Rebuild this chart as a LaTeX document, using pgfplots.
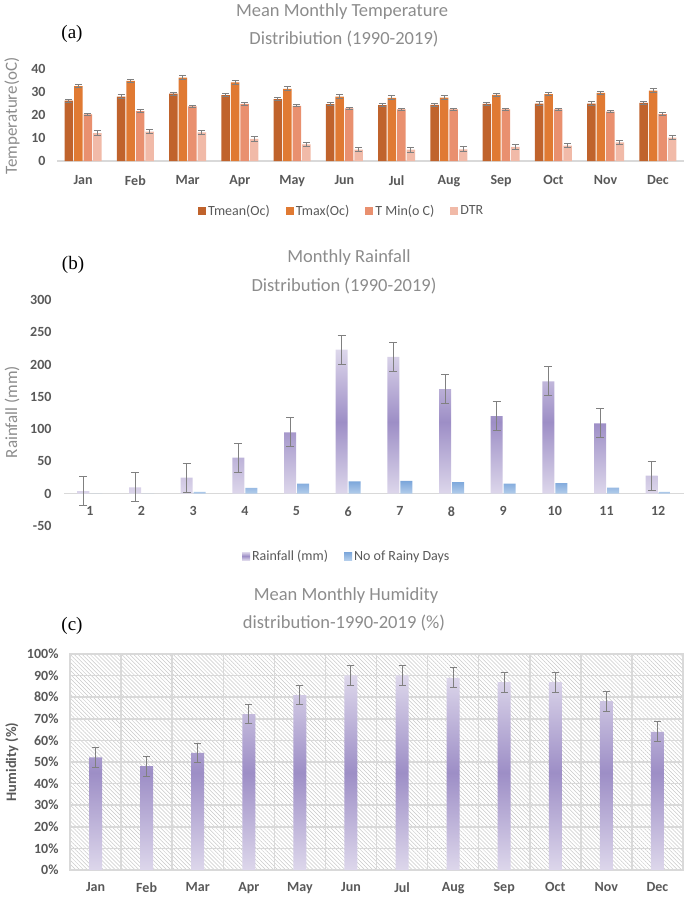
\documentclass[border=0pt]{standalone}
\usepackage{fontspec}
\setmainfont{Carlito}
\newfontfamily\tnr{Liberation Serif}
\usepackage{pgfplots}
\pgfplotsset{compat=1.18}
\usetikzlibrary{patterns.meta}

\definecolor{tmean}{HTML}{C0632C}
\definecolor{tmax}{HTML}{E07A33}
\definecolor{tmin}{HTML}{E9906F}
\definecolor{dtr}{HTML}{F1BAA8}
\definecolor{txt}{HTML}{595959}
\definecolor{ttl}{HTML}{8C8C8C}
\definecolor{errc}{HTML}{808080}
\definecolor{lav}{HTML}{DDD7EB}
\definecolor{purp}{HTML}{9D8EC6}
\definecolor{blu1}{HTML}{7AA5DA}
\definecolor{blu2}{HTML}{B3CDEB}
\definecolor{gridc}{HTML}{D9D9D9}
\definecolor{hatch}{HTML}{C8C8C8}

\pgfplotsset{
  panel/.style={
    scale only axis, anchor=south west,
    /pgf/number format/assume math mode=true,
    tick style={draw=none}, major tick length=0pt, minor tick length=0pt,
    ticklabel style={font=\fontsize{14}{16}\selectfont\bfseries, text=txt},
    legend style={draw=none, fill=none, font=\fontsize{14}{16}\selectfont, text=txt,
      legend columns=-1, anchor=center,
      /tikz/every even column/.append style={column sep=14pt}},
    error bars/error bar style={errc, line width=1pt},
    error bars/error mark options={errc, rotate=90, line width=1pt, mark size=3.5pt},
  },
  sqlegend/.style={legend image code/.code={\fill[##1] (0pt,-4pt) rectangle (8pt,4pt);}},
}
\tikzset{ttlfont/.style={font=\fontsize{18.5}{20}\selectfont, text=ttl},
  ylabfont/.style={font=\fontsize{17}{19}\selectfont, text=ttl, rotate=90}}

\begin{document}
\begin{tikzpicture}
\useasboundingbox (0,0) rectangle (685pt,-897pt);

% ---------- (a) temperature
\node[ttlfont] at (342pt,-12pt) {Mean Monthly Temperature};
\node[ttlfont] at (344pt,-39pt) {Distribiution (1990-2019)};
\node[font=\tnr\fontsize{19}{21}\selectfont] at (72pt,-34pt) {(a)};
\node[ylabfont] at (12pt,-116pt) {Temperature(oC)};

\begin{axis}[panel, at={(57pt,-161pt)},
  width=627pt, height=92pt,
  xmin=-0.5, xmax=11.5, ymin=0, ymax=40,
  axis line style={draw=none},
  ytick={0,10,20,30,40},
  extra y ticks={0}, extra y tick labels={},
  extra y tick style={grid=major, major grid style={gridc, line width=1.2pt}},
  xtick={0,...,11},
  xticklabels={Jan,Feb,Mar,Apr,May,Jun,Jul,Aug,Sep,Oct,Nov,Dec},
  xticklabel style={yshift=-11pt},
  yticklabel style={xshift=-8pt},
  ybar=1pt, bar width=8.5pt, sqlegend,
  legend style={at={(axis description cs:0.454,-0.54)}},
]
\addplot[fill=tmean, draw=none, error bars/.cd, y dir=both, y explicit] coordinates {
 (0,26.2) +- (0,0.7) (1,28.0) +- (0,0.7) (2,29.3) +- (0,0.7) (3,28.6) +- (0,0.7)
 (4,26.9) +- (0,0.7) (5,24.7) +- (0,0.7) (6,24.3) +- (0,0.7) (7,24.4) +- (0,0.7)
 (8,24.8) +- (0,0.7) (9,25.0) +- (0,0.7) (10,25.0) +- (0,0.7) (11,25.3) +- (0,0.7)};
\addplot[fill=tmax, draw=none, error bars/.cd, y dir=both, y explicit] coordinates {
 (0,32.6) +- (0,0.8) (1,34.8) +- (0,0.8) (2,36.2) +- (0,0.8) (3,34.2) +- (0,0.8)
 (4,31.4) +- (0,0.8) (5,28.0) +- (0,0.8) (6,27.5) +- (0,0.8) (7,27.6) +- (0,0.8)
 (8,28.7) +- (0,0.8) (9,29.1) +- (0,0.8) (10,29.6) +- (0,0.8) (11,30.6) +- (0,0.8)};
\addplot[fill=tmin, draw=none, error bars/.cd, y dir=both, y explicit] coordinates {
 (0,20.3) +- (0,0.5) (1,21.7) +- (0,0.5) (2,23.8) +- (0,0.5) (3,24.8) +- (0,0.5)
 (4,24.0) +- (0,0.5) (5,22.9) +- (0,0.5) (6,22.4) +- (0,0.5) (7,22.4) +- (0,0.5)
 (8,22.4) +- (0,0.5) (9,22.4) +- (0,0.5) (10,21.5) +- (0,0.5) (11,20.4) +- (0,0.5)};
\addplot[fill=dtr, draw=none, error bars/.cd, y dir=both, y explicit] coordinates {
 (0,12.1) +- (0,1) (1,12.8) +- (0,1) (2,12.4) +- (0,1) (3,9.6) +- (0,1)
 (4,7.2) +- (0,1) (5,5.0) +- (0,1) (6,4.9) +- (0,1) (7,5.1) +- (0,1)
 (8,6.1) +- (0,1) (9,6.7) +- (0,1) (10,8.1) +- (0,1) (11,10.2) +- (0,1)};
\legend{Tmean(Oc),Tmax(Oc),T Min(o C),DTR}
\end{axis}

% ---------- (b) rainfall
\node[ttlfont] at (349pt,-258pt) {Monthly Rainfall};
\node[ttlfont] at (344pt,-286pt) {Distribution (1990-2019)};
\node[font=\tnr\fontsize{19}{21}\selectfont] at (73pt,-265pt) {(b)};
\node[ylabfont] at (12pt,-412pt) {Rainfall (mm)};

\begin{axis}[panel, at={(64pt,-526pt)},
  width=620pt, height=226pt,
  xmin=0.5, xmax=12.5, ymin=-50, ymax=300,
  axis line style={draw=none},
  ytick={-50,0,50,...,300},
  extra y ticks={0}, extra y tick labels={},
  extra y tick style={grid=major, major grid style={gridc, line width=1.2pt}},
  xtick={1,...,12},
  xticklabel style={yshift=23pt},
  yticklabel style={xshift=-9pt},
  ybar=1pt, bar width=12pt, sqlegend,
  legend style={at={(axis description cs:0.456,-0.133)}},
  error bars/error mark options={errc, rotate=90, line width=1pt, mark size=4pt},
]
\addplot[draw=none, top color=lav, bottom color=lav, middle color=purp,
  error bars/.cd, y dir=both, y explicit] coordinates {
 (1,4) +- (0,22.5) (2,10) +- (0,22.5) (3,25) +- (0,22.5) (4,56) +- (0,22.5)
 (5,95) +- (0,22.5) (6,223) +- (0,22.5) (7,212) +- (0,22.5) (8,162) +- (0,22.5)
 (9,120) +- (0,22.5) (10,174) +- (0,22.5) (11,109) +- (0,22.5) (12,28) +- (0,22.5)};
\addplot[draw=none, top color=blu1, bottom color=blu2] coordinates {
 (1,0) (2,0) (3,3) (4,9) (5,15.5) (6,19) (7,20) (8,18) (9,15.5) (10,16.5) (11,9.5) (12,3)};
\legend{Rainfall (mm),No of Rainy Days}
\end{axis}

% ---------- (c) humidity
\node[ttlfont] at (346pt,-596pt) {Mean Monthly Humidity};
\node[ttlfont] at (344pt,-623pt) {distribution-1990-2019 (\%)};
\node[font=\tnr\fontsize{19}{21}\selectfont] at (72pt,-626pt) {(c)};
\node[rotate=90, font=\fontsize{14.5}{16}\selectfont\bfseries, text=txt] at (12pt,-762pt) {Humidity (\%)};

\begin{axis}[panel, at={(70pt,-870pt)},
  width=613pt, height=216pt,
  xmin=-0.5, xmax=11.5, ymin=0, ymax=100,
  axis line style={gridc, line width=1.5pt},
  axis background/.style={pattern={Lines[angle=-45,distance=2.8pt,line width=0.5pt]}, pattern color=hatch},
  ytick={0,10,...,100},
  yticklabels={0\%,10\%,20\%,30\%,40\%,50\%,60\%,70\%,80\%,90\%,100\%},
  ymajorgrids, major grid style={gridc, line width=1.5pt},
  minor xtick={0.5,1.5,...,10.5}, xminorgrids, minor grid style={gridc, line width=1.5pt},
  xtick={0,...,11},
  xticklabels={Jan,Feb,Mar,Apr,May,Jun,Jul,Aug,Sep,Oct,Nov,Dec},
  xticklabel style={yshift=-9pt},
  yticklabel style={xshift=-8pt},
  ybar, bar width=13pt,
]
\addplot[draw=none, top color=lav, bottom color=lav, middle color=purp,
  error bars/.cd, y dir=both, y explicit] coordinates {
 (0,52.2) +- (0,4.6) (1,48.1) +- (0,4.6) (2,54.2) +- (0,4.6) (3,72.2) +- (0,4.6)
 (4,81) +- (0,4.6) (5,90.1) +- (0,4.6) (6,90.1) +- (0,4.6) (7,89) +- (0,4.6)
 (8,87) +- (0,4.6) (9,87) +- (0,4.6) (10,78.2) +- (0,4.6) (11,64) +- (0,4.6)};
\end{axis}
\end{tikzpicture}
\end{document}
